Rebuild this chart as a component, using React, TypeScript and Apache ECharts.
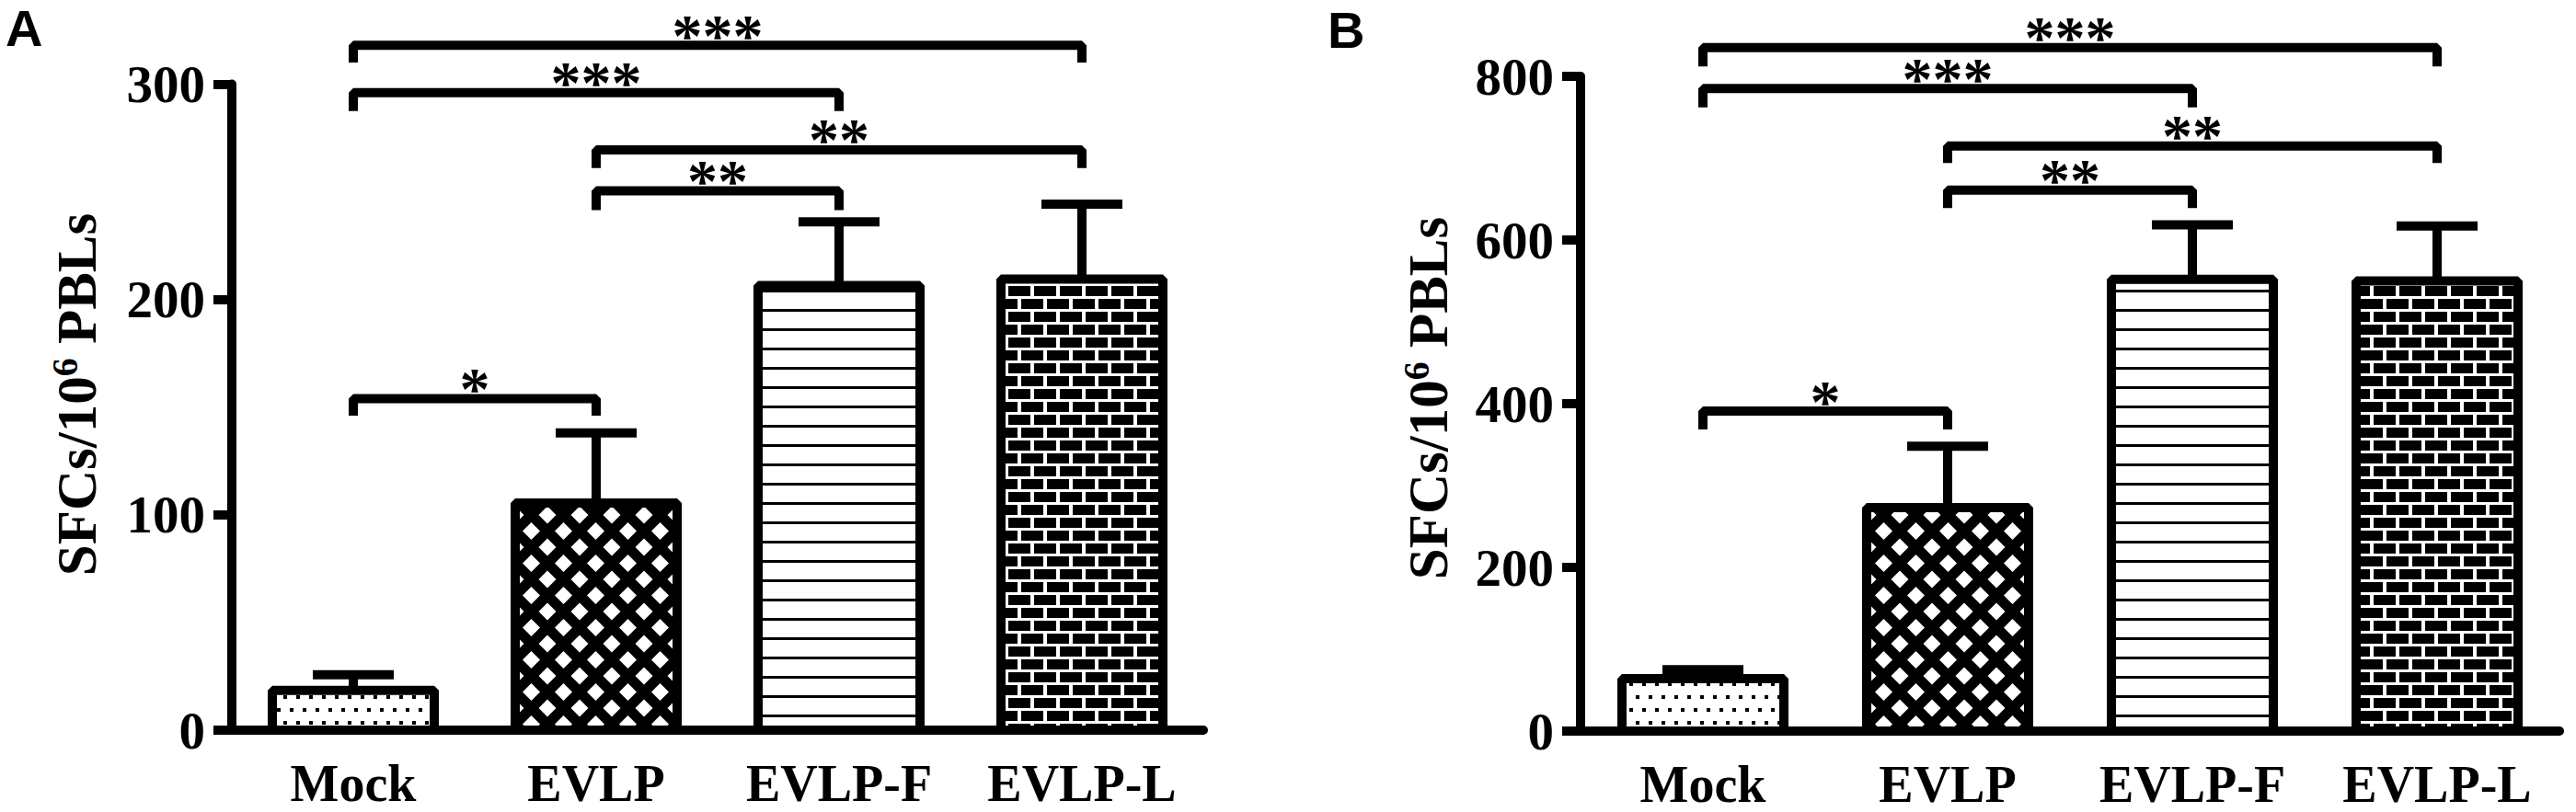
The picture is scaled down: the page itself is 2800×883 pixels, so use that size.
import React, { useEffect, useRef } from "react";
import * as echarts from "echarts";

const categories = ["Mock", "EVLP", "EVLP-F", "EVLP-L"];
const meansA = [18.5, 105.5, 206.5, 209.5];
const errTopA = [25.7, 138, 236, 244.3];
const meansB = [64, 273, 552, 550];
const errTopB = [75, 348, 618.5, 617];
const yTicksA = [0, 100, 200, 300];
const yTicksB = [0, 200, 400, 600, 800];
// [from category, to category, bracket level, end of drop]
const bracketsA = [
  [0, 3, 318, 310],
  [0, 2, 296, 287.5],
  [1, 3, 269.5, 261],
  [1, 2, 250.5, 241.5],
  [0, 1, 154, 146],
];
const bracketsB = [
  [0, 3, 835, 812],
  [0, 2, 785, 762],
  [1, 3, 715, 694],
  [1, 2, 661, 639],
  [0, 1, 391, 368.5],
];
const starsA = ["***", "***", "**", "**", "*"];
const starsB = ["***", "***", "**", "**", "*"];
const yTitleMain = "SFCs/10";
const yTitleSup = "6";
const yTitleEnd = " PBLs";
const panelLabels = ["A", "B"];

const SERIF = '"Liberation Serif", "Times New Roman", serif';
const SANS = '"Liberation Sans", Arial, sans-serif';
const BAR_W = 176;
const LINE_W = 10;

function tile(w: number, h: number, draw: (c: CanvasRenderingContext2D) => void, dy = 0) {
  const cv = document.createElement("canvas");
  cv.width = w;
  cv.height = h;
  const ctx = cv.getContext("2d")!;
  draw(ctx);
  return { image: cv, repeat: "repeat", imageWidth: w, imageHeight: h, x: 0, y: dy };
}

function makePatterns() {
  const dots = tile(
    14,
    28,
    (c) => {
      c.fillStyle = "#fff";
      c.fillRect(0, 0, 14, 28);
      c.fillStyle = "#000";
      c.fillRect(0, 0, 4, 4);
      c.fillRect(7, 14, 4, 4);
    },
    10
  );
  const diamonds = tile(35, 35, (c) => {
    c.fillStyle = "#000";
    c.fillRect(0, 0, 35, 35);
    c.fillStyle = "#fff";
    const d = 9.5;
    const centers = [
      [17.5, 17.5],
      [0, 0],
      [35, 0],
      [0, 35],
      [35, 35],
    ];
    for (const [cx, cy] of centers) {
      c.beginPath();
      c.moveTo(cx, cy - d);
      c.lineTo(cx + d, cy);
      c.lineTo(cx, cy + d);
      c.lineTo(cx - d, cy);
      c.closePath();
      c.fill();
    }
  });
  const lines = tile(8, 21, (c) => {
    c.fillStyle = "#fff";
    c.fillRect(0, 0, 8, 21);
    c.fillStyle = "#000";
    c.fillRect(0, 0, 8, 3);
  });
  const bricks = tile(28, 28, (c) => {
    c.fillStyle = "#000";
    c.fillRect(0, 0, 28, 28);
    c.fillStyle = "#fff";
    c.fillRect(0, 0, 28, 3);
    c.fillRect(0, 14, 28, 3);
    c.fillRect(0, 3, 4, 11);
    c.fillRect(14, 17, 4, 11);
  });
  return [dots, diamonds, lines, bricks];
}

// bar outline (left, top, right) + error bar
function errorRender(params: any, api: any) {
  const i = api.value(0);
  const top = api.coord([i, api.value(1)]);
  const base = api.coord([i, 0]);
  const e = api.coord([i, api.value(2)]);
  const h = BAR_W / 2;
  return {
    type: "group",
    children: [
      {
        type: "polyline",
        shape: {
          points: [
            [top[0] - h, base[1]],
            [top[0] - h, top[1]],
            [top[0] + h, top[1]],
            [top[0] + h, base[1]],
          ],
        },
        style: { stroke: "#000", fill: "none", lineWidth: LINE_W, lineJoin: "bevel" },
      },
      {
        type: "line",
        shape: { x1: top[0], y1: top[1], x2: e[0], y2: e[1] },
        style: { stroke: "#000", lineWidth: LINE_W, fill: "none" },
      },
      {
        type: "line",
        shape: { x1: e[0] - 44, y1: e[1], x2: e[0] + 44, y2: e[1] },
        style: { stroke: "#000", lineWidth: LINE_W, fill: "none" },
      },
    ],
  };
}

function bracketRender(stars: string[]) {
  return (params: any, api: any) => {
    const a = api.coord([api.value(0), api.value(2)]);
    const b = api.coord([api.value(1), api.value(2)]);
    const yb = api.coord([api.value(0), api.value(3)])[1];
    return {
      type: "group",
      children: [
        {
          type: "polyline",
          shape: {
            points: [
              [a[0], yb],
              [a[0], a[1]],
              [b[0], a[1]],
              [b[0], yb],
            ],
          },
          style: { stroke: "#000", fill: "none", lineWidth: LINE_W, lineJoin: "bevel" },
        },
        {
          type: "text",
          x: (a[0] + b[0]) / 2,
          y: a[1] - 11,
          style: {
            text: stars[params.dataIndex],
            fill: "#000",
            fontSize: 66,
            fontWeight: "bold",
            fontFamily: SERIF,
            align: "center",
            verticalAlign: "middle",
            textAlign: "center",
            textVerticalAlign: "middle",
          },
        },
      ],
    };
  };
}

export default function App() {
  const ref = useRef<HTMLDivElement>(null);
  useEffect(() => {
    document.body.style.margin = "0";
    const chart = echarts.init(ref.current!, undefined, { renderer: "svg" });
    const patterns = makePatterns();

    const xAxisBase = (gi: number) => ({
      type: "category",
      gridIndex: gi,
      data: categories,
      z: 5,
      axisLine: { lineStyle: { color: "#000", width: LINE_W } },
      axisTick: {
        alignWithLabel: true,
        interval: 0,
        length: 20,
        lineStyle: { color: "#000", width: LINE_W },
      },
      axisLabel: {
        interval: 0,
        margin: 30,
        color: "#000",
        fontSize: 56,
        fontWeight: "bold",
        fontFamily: SERIF,
      },
      splitLine: { show: false },
    });
    const yAxisBase = (gi: number, ticks: number[]) => ({
      type: "value",
      gridIndex: gi,
      min: ticks[0],
      max: ticks[ticks.length - 1],
      interval: ticks[1] - ticks[0],
      axisLine: { show: true, lineStyle: { color: "#000", width: LINE_W } },
      axisTick: { show: true, length: 20, lineStyle: { color: "#000", width: LINE_W } },
      axisLabel: {
        margin: 29,
        color: "#000",
        fontSize: 57,
        fontWeight: "bold",
        fontFamily: SERIF,
      },
      splitLine: { show: false },
    });

    const barSeries = (gi: number, means: number[]) => ({
      type: "bar",
      xAxisIndex: gi,
      yAxisIndex: gi,
      barWidth: BAR_W,
      z: 2,
      data: means.map((v, i) => ({
        value: v,
        itemStyle: { color: patterns[i] },
      })),
      itemStyle: { borderWidth: 0 },
      emphasis: { disabled: true },
    });
    const errSeries = (gi: number, means: number[], tops: number[]) => ({
      type: "custom",
      xAxisIndex: gi,
      yAxisIndex: gi,
      z: 3,
      renderItem: errorRender,
      encode: { x: 0, y: 2 },
      data: means.map((m, i) => [i, m, tops[i]]),
    });
    const bracketSeries = (gi: number, br: number[][], stars: string[]) => ({
      type: "custom",
      xAxisIndex: gi,
      yAxisIndex: gi,
      z: 4,
      clip: false,
      renderItem: bracketRender(stars),
      encode: { x: 0, y: 2 },
      data: br,
    });

    const titleStyle = {
      text: `{n|${yTitleMain}}{sup|${yTitleSup}}{n|${yTitleEnd}}`,
      fill: "#000",
      fontSize: 61,
      fontWeight: "bold",
      fontFamily: SERIF,
      align: "center",
      verticalAlign: "middle",
      textAlign: "center",
      textVerticalAlign: "middle",
      rich: {
        n: {
          fontSize: 61,
          lineHeight: 64,
          fontWeight: "bold",
          fontFamily: SERIF,
          fill: "#000",
          color: "#000",
          verticalAlign: "bottom",
        },
        sup: {
          fontSize: 40,
          lineHeight: 40,
          fontWeight: "bold",
          fontFamily: SERIF,
          fill: "#000",
          color: "#000",
          verticalAlign: "top",
        },
      },
    };
    const panelStyle = (t: string) => ({
      text: t,
      fill: "#000",
      fontSize: 56,
      fontWeight: "bold",
      fontFamily: SANS,
      align: "left",
      verticalAlign: "top",
      textAlign: "left",
      textVerticalAlign: "top",
    });

    chart.setOption({
      animation: false,
      backgroundColor: "#fff",
      grid: [
        { left: 252, top: 91.5, width: 1056, height: 702.5 },
        { left: 1718, top: 83, width: 1064, height: 712 },
      ],
      xAxis: [xAxisBase(0), xAxisBase(1)],
      yAxis: [yAxisBase(0, yTicksA), yAxisBase(1, yTicksB)],
      series: [
        barSeries(0, meansA),
        errSeries(0, meansA, errTopA),
        bracketSeries(0, bracketsA, starsA),
        barSeries(1, meansB),
        errSeries(1, meansB, errTopB),
        bracketSeries(1, bracketsB, starsB),
      ],
      graphic: [
        { type: "text", x: 82, y: 429, rotation: Math.PI / 2, style: titleStyle },
        { type: "text", x: 1551, y: 433, rotation: Math.PI / 2, style: titleStyle },
        { type: "text", x: 6, y: 2, style: panelStyle(panelLabels[0]) },
        { type: "text", x: 1443, y: 4, style: panelStyle(panelLabels[1]) },
      ],
    });
    return () => chart.dispose();
  }, []);
  return <div ref={ref} style={{ width: 2800, height: 883 }} />;
}
